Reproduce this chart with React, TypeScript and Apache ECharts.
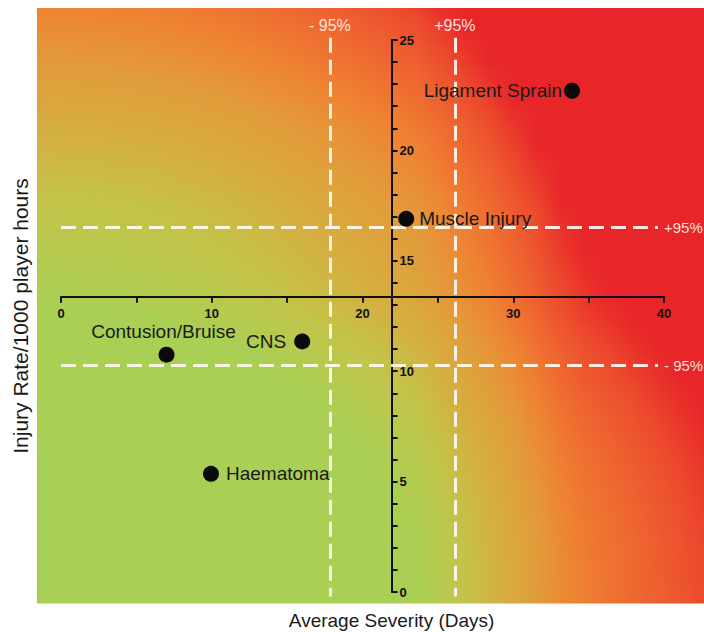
import React, { useEffect, useRef } from "react";
import * as echarts from "echarts";

// ---- data ----
const injuryNames = ["Ligament Sprain", "Muscle Injury", "Contusion/Bruise", "CNS", "Haematoma"];
const severityDays = [33.9, 22.9, 7.0, 16.0, 9.95];
const injuryRate = [22.7, 16.9, 10.75, 11.35, 5.35];

const xRange = [0, 40];
const xTickStep = 10;
const yRange = [0, 25];
const yTickStep = 5;

const meanSeverity = 21.93; // where the rate axis crosses
const meanRate = 13.37; // where the severity axis crosses
const severityCI = [17.84, 26.13];
const rateCI = [10.26, 16.52];
const ciLabels = ["- 95%", "+95%"];

const xTitle = "Average Severity (Days)";
const yTitle = "Injury Rate/1000 player hours";

// ---- layout / style ----
const FONT = "'Liberation Sans', Arial, Helvetica, sans-serif";
const GRID_LEFT = 61;
const GRID_RIGHT_EDGE = 664;
const GRID_TOP = 40;
const GRID_BOTTOM_EDGE = 592;
const GRID_W = GRID_RIGHT_EDGE - GRID_LEFT;
const GRID_H = GRID_BOTTOM_EDGE - GRID_TOP;

const BG_LEFT = 37;
const BG_TOP = 8;
const BG_RIGHT = 704;
const BG_BOTTOM = 603;

const labelPlacement: Record<string, { position: string; distance: number; offset?: number[] }> = {
  "Ligament Sprain": { position: "left", distance: 2 },
  "Muscle Injury": { position: "right", distance: 5 },
  "Contusion/Bruise": { position: "top", distance: 6, offset: [-3, 0] },
  CNS: { position: "left", distance: 8 },
  Haematoma: { position: "right", distance: 7 },
};

const xPix = (v: number) => GRID_LEFT + ((v - xRange[0]) / (xRange[1] - xRange[0])) * GRID_W;
const yPix = (v: number) => GRID_BOTTOM_EDGE - ((v - yRange[0]) / (yRange[1] - yRange[0])) * GRID_H;

const axisColor = "#111";
const dashColor = "rgba(255,250,240,0.92)";
const ciTextColor = "rgba(255,236,228,0.95)";

// ---- background colour field (green lower-left -> red upper-right) ----
const hToRgb = (h: string) => [1, 3, 5].map((i) => parseInt(h.slice(i, i + 2), 16));
const interp = (pts: number[][], x: number) => {
  if (x <= pts[0][0]) return pts[0][1];
  for (let i = 1; i < pts.length; i++) {
    if (x <= pts[i][0]) {
      const [x0, y0] = pts[i - 1];
      const [x1, y1] = pts[i];
      return y0 + ((y1 - y0) * (x - x0)) / (x1 - x0);
    }
  }
  return pts[pts.length - 1][1];
};
const horizProfile = [
  [0, 0],
  [0.57, 0.5],
  [0.64, 0.6],
  [0.7, 0.68],
  [0.8, 0.82],
  [0.92, 0.9],
  [1, 0.95],
];
const vertProfile = [
  [0, 0],
  [0.5, 0.5],
  [0.68, 0.6],
  [0.8, 0.68],
  [0.91, 0.76],
  [1, 0.82],
];
const colorStops: [number, string][] = [
  [0, "#a8cf55"],
  [0.5, "#a9cf54"],
  [0.6, "#c3c449"],
  [0.68, "#d6ad40"],
  [0.76, "#e39a3a"],
  [0.82, "#ee8432"],
  [0.9, "#ee6230"],
  [0.95, "#ec4a2d"],
  [1.0, "#e8262a"],
  [3, "#e8202a"],
];
const colorAt = (t: number) => {
  for (let i = 1; i < colorStops.length; i++) {
    if (t <= colorStops[i][0]) {
      const [t0, c0] = colorStops[i - 1];
      const [t1, c1] = colorStops[i];
      const f = Math.max(0, (t - t0) / (t1 - t0));
      const a = hToRgb(c0);
      const b = hToRgb(c1);
      const c = a.map((v, k) => Math.round(v + (b[k] - v) * f));
      return `rgb(${c[0]},${c[1]},${c[2]})`;
    }
  }
  return colorStops[colorStops.length - 1][1];
};

const buildBackground = () => {
  const rows: any[] = [];
  const stripH = 3;
  const W = BG_RIGHT - BG_LEFT;
  const H = BG_BOTTOM - BG_TOP;
  const nStops = 28;
  for (let y = BG_TOP; y < BG_BOTTOM; y += stripH) {
    const h = Math.min(stripH, BG_BOTTOM - y);
    const v = (BG_BOTTOM - (y + h / 2)) / H;
    const b = interp(vertProfile, v);
    const stops = [];
    for (let k = 0; k <= nStops; k++) {
      const u = k / nStops;
      const a = interp(horizProfile, u);
      stops.push({ offset: u, color: colorAt(Math.sqrt(a * a + b * b)) });
    }
    rows.push({
      type: "rect",
      silent: true,
      z: -100,
      shape: { x: BG_LEFT, y, width: W, height: h + 0.5 },
      style: { fill: new echarts.graphic.LinearGradient(0, 0, 1, 0, stops) },
    });
  }
  return rows;
};

export default function App() {
  const ref = useRef<HTMLDivElement>(null);

  useEffect(() => {
    if (!ref.current) return;
    const chart = echarts.init(ref.current, null, { renderer: "svg" });

    const points = injuryNames.map((name, i) => {
      const p = labelPlacement[name];
      return {
        name,
        value: [severityDays[i], injuryRate[i]],
        label: { position: p.position, distance: p.distance, offset: p.offset || [0, 0] },
      };
    });

    // data grid is padded by one unit on each side so the CI lines may overrun the axes slightly
    const pad = 1;
    const yLineTop = yRange[1] + 0.1;
    const yLineBottom = yRange[0] - 0.2;
    const xLineStart = xRange[0];
    const xLineEnd = xRange[1] - 0.4;

    const markData: any[] = [];
    severityCI.forEach((v, i) => {
      markData.push([
        {
          coord: [v, yLineTop],
          label: { formatter: ciLabels[i], position: "start", distance: 4, fontSize: 16 },
        },
        { coord: [v, yLineBottom] },
      ]);
    });
    rateCI.forEach((v, i) => {
      markData.push([
        {
          coord: [xLineStart, v],
          label: { formatter: ciLabels[i], position: "end", distance: 6, fontSize: 15 },
        },
        { coord: [xLineEnd, v] },
      ]);
    });

    const option: any = {
      animation: false,
      backgroundColor: "#ffffff",
      grid: [
        {
          left: xPix(xRange[0] - pad),
          top: yPix(yRange[1] + pad),
          width: xPix(xRange[1] + pad) - xPix(xRange[0] - pad),
          height: yPix(yRange[0] - pad) - yPix(yRange[1] + pad),
          outerBoundsMode: "none",
          containLabel: false,
        },
        {
          left: GRID_LEFT,
          top: GRID_TOP,
          width: GRID_W,
          height: yPix(meanRate) - GRID_TOP,
          outerBoundsMode: "none",
          containLabel: false,
        },
        {
          left: xPix(meanSeverity),
          top: GRID_TOP,
          width: 100,
          height: GRID_H,
          outerBoundsMode: "none",
          containLabel: false,
        },
      ],
      xAxis: [
        { gridIndex: 0, type: "value", min: xRange[0] - pad, max: xRange[1] + pad, show: false },
        {
          gridIndex: 1,
          type: "value",
          min: xRange[0],
          max: xRange[1],
          interval: xTickStep,
          position: "bottom",
          axisLine: { show: true, onZero: false, lineStyle: { color: axisColor, width: 2 } },
          axisTick: { show: true, length: 6, lineStyle: { color: axisColor, width: 2 } },
          minorTick: { show: true, splitNumber: 2, length: 6, lineStyle: { color: axisColor, width: 2 } },
          axisLabel: { show: true, color: axisColor, fontWeight: "bold", fontSize: 13, margin: 10, fontFamily: FONT },
          splitLine: { show: false },
          minorSplitLine: { show: false },
        },
        { gridIndex: 2, type: "value", min: xRange[0], max: xRange[1], show: false },
      ],
      yAxis: [
        { gridIndex: 0, type: "value", min: yRange[0] - pad, max: yRange[1] + pad, show: false },
        { gridIndex: 1, type: "value", min: yRange[0], max: yRange[1], show: false },
        {
          gridIndex: 2,
          type: "value",
          min: yRange[0],
          max: yRange[1],
          interval: yTickStep,
          position: "left",
          axisLine: { show: true, onZero: false, lineStyle: { color: axisColor, width: 2 } },
          axisTick: { show: true, inside: true, length: 6, lineStyle: { color: axisColor, width: 2 } },
          minorTick: { show: true, splitNumber: 5, length: 6, lineStyle: { color: axisColor, width: 2 } },
          axisLabel: {
            show: true,
            inside: true,
            color: axisColor,
            fontWeight: "bold",
            fontSize: 13,
            margin: 8,
            fontFamily: FONT,
          },
          splitLine: { show: false },
          minorSplitLine: { show: false },
        },
      ],
      graphic: {
        elements: [
          ...buildBackground(),
          {
            type: "text",
            z: 100,
            x: xPix(meanSeverity),
            y: 620,
            style: {
              text: xTitle,
              fill: "#1a1a1a",
              font: `19px ${FONT}`,
              textAlign: "center",
              textVerticalAlign: "middle",
            },
          },
          {
            type: "text",
            z: 100,
            x: 20,
            y: 316,
            rotation: Math.PI / 2,
            style: {
              text: yTitle,
              fill: "#1a1a1a",
              font: `21px ${FONT}`,
              textAlign: "center",
              textVerticalAlign: "middle",
            },
          },
        ],
      },
      series: [
        {
          type: "scatter",
          xAxisIndex: 0,
          yAxisIndex: 0,
          symbol: "circle",
          symbolSize: 16,
          itemStyle: { color: "#0a0a0a", opacity: 1 },
          label: {
            show: true,
            formatter: "{b}",
            color: "#1a1a1a",
            fontSize: 19,
            fontFamily: FONT,
          },
          data: points,
          z: 5,
          markLine: {
            silent: true,
            symbol: ["none", "none"],
            lineStyle: { color: dashColor, width: 3, type: [15, 7] },
            label: { show: true, color: ciTextColor, fontFamily: FONT },
            data: markData,
          },
        },
      ],
    };

    chart.setOption(option);
    return () => chart.dispose();
  }, []);

  return <div ref={ref} style={{ position: "fixed", left: 0, top: 0, width: 704, height: 632 }} />;
}
